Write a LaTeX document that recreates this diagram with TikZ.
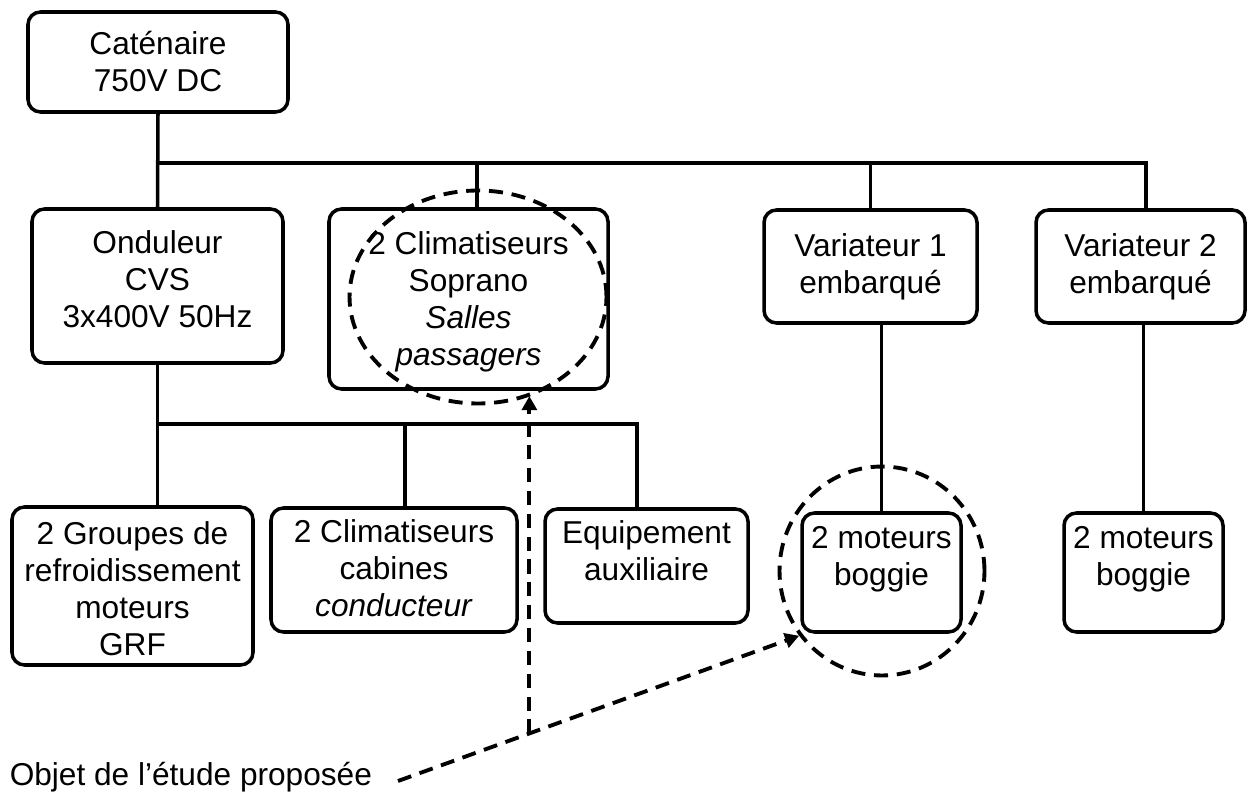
\documentclass[tikz,border=0pt]{standalone}
\usepackage{fontspec}
\setmainfont{Liberation Sans}
\usetikzlibrary{arrows.meta,positioning,fit,shapes.geometric,calc}

\begin{document}
\begin{tikzpicture}[x=0.02cm,y=-0.02cm,>={Triangle[length=8pt,width=8.5pt]},line width=2pt,font=\fontsize{18}{21}\selectfont]
    \tikzstyle{block}=[draw,rounded corners=0.25cm,inner sep=0pt]
    \tikzstyle{txt}=[align=center,inner sep=0pt]
    \tikzstyle{zone}=[draw,ellipse,inner sep=0pt,line width=2.2pt,dash pattern=on 8pt off 5pt]
    \tikzstyle{pointer}=[->,line width=2.2pt,dash pattern=on 8pt off 5pt]

    \useasboundingbox (0,0) rectangle (1247,793);

    % boites
    \node[block,fit={(28,12) (288,112)}]     (cat)  {};
    \node[block,fit={(32,209) (283,363)}]    (ond)  {};
    \node[block,fit={(329,209) (608,389)}]   (sop)  {};
    \node[block,fit={(764,210) (977,323)}]   (var1) {};
    \node[block,fit={(1036,210) (1245,323)}] (var2) {};
    \node[block,fit={(12,507) (253,665)}]    (grf)  {};
    \node[block,fit={(271,508) (517,632)}]   (cab)  {};
    \node[block,fit={(545,509) (748,623)}]   (equ)  {};
    \node[block,fit={(802,513) (961,632)}]   (mot1) {};
    \node[block,fit={(1064,513) (1223,632)}] (mot2) {};

    \node[txt,below=0.34cm of cat.north]  (catT)  {\strut Caténaire\\750V DC};
    \node[txt,below=0.38cm of ond.north]  (ondT)  {\strut Onduleur\\CVS\\3x400V 50Hz};
    \node[txt,below=0.40cm of sop.north]  (sopT)  {\strut 2 Climatiseurs\\Soprano\\\textit{Salles}\\\textit{passagers}};
    \node[txt,below=0.42cm of var1.north] (var1T) {\strut Variateur 1\\embarqué};
    \node[txt,below=0.42cm of var2.north] (var2T) {\strut Variateur 2\\embarqué};
    \node[txt,below=0.24cm of grf.north]  (grfT)  {\strut 2 Groupes de\\refroidissement\\moteurs\\GRF};
    \node[txt,below=0.18cm of cab.north]  (cabT)  {\strut 2 Climatiseurs\\cabines\\\textit{conducteur}};
    \node[txt,below=0.18cm of equ.north]  (equT)  {\strut Equipement\\auxiliaire};
    \node[txt,below=0.20cm of mot1.north] (mot1T) {\strut 2 moteurs\\boggie};
    \node[txt,below=0.20cm of mot2.north] (mot2T) {\strut 2 moteurs\\boggie};

    \node[txt,anchor=base west] (obj) at (8,785) {Objet de l’étude proposée};

    % liaisons
    \coordinate (j1) at (158,163);
    \coordinate (j2) at (158,424);
    \draw (cat.south) -- (ond.north);
    \draw (j1) -| ([xshift=0.17cm]sop.north);
    \draw (j1) -| (var1.north);
    \draw (j1) -| ([xshift=0.11cm]var2.north);
    \draw (ond.south) -- (ond.south |- grf.north);
    \draw (j2) -| ([xshift=0.22cm]cab.north);
    \draw (j2) -| ([xshift=-0.19cm]equ.north);
    \draw (mot1.north |- var1.south) -- (mot1.north);
    \draw (mot2.north |- var2.south) -- (mot2.north);

    % zones etudiees
    \node[zone,minimum width=5.14cm,minimum height=4.26cm] (zone1) at (478,297) {};
    \node[zone,minimum width=4.10cm,minimum height=4.18cm] (zone2) at (882,571) {};

    \coordinate (start) at (398,781);
    \coordinate (kink) at ($(start)!0.3275!(zone2.-142)$);
    \draw[pointer] (start) -- (zone2.-142);
    \draw[pointer] (kink) -- (kink |- zone1.-62);
\end{tikzpicture}
\end{document}
